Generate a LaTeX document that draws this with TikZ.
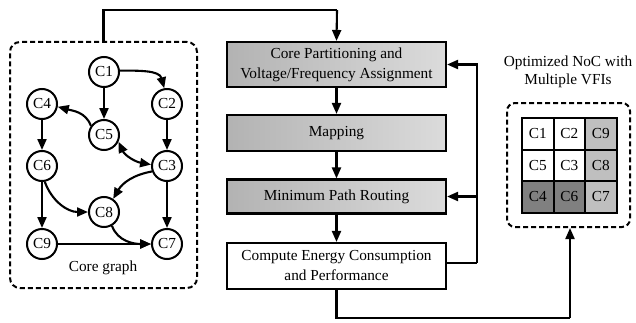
\documentclass[tikz,border=0pt]{standalone}
\usepackage{fontspec}
\setmainfont{Liberation Serif}
\usetikzlibrary{arrows.meta}
\begin{document}
\begin{tikzpicture}[x=1pt,y=1pt,
  font=\fontsize{15.3}{20}\selectfont,
  conn/.style={line width=2.1pt, -{Triangle[length=11pt,width=9pt]}},
  both/.style={line width=2.1pt, {Triangle[length=11pt,width=9pt]}-{Triangle[length=11pt,width=9pt]}},
  wire/.style={line width=2.1pt},
  core/.style={circle, draw, line width=2pt, minimum size=30pt, inner sep=0pt},
  stepbox/.style={draw, line width=2.1pt, minimum width=219pt, align=center, inner sep=0pt},
  shadedbox/.style={stepbox, left color=black!30, middle color=black!3, right color=black!14},
  group/.style={draw, line width=2pt, dash pattern=on 5pt off 3pt, rounded corners=10pt, inner sep=0pt},
  cell/.style={draw, line width=2pt, minimum size=31.5pt, inner sep=0pt},
  vfilow/.style={cell, fill=black!25},
  vfihigh/.style={cell, fill=black!50}
]
\useasboundingbox (0,0) rectangle (636,322);

% core graph
\node[group, minimum width=187pt, minimum height=246pt] (cg) at (103.5,157) {};
\node[core] (c1) at (104,250) {C1};
\node[core] (c2) at (167,218) {C2};
\node[core] (c4) at (42,218) {C4};
\node[core] (c5) at (104,187) {C5};
\node[core] (c6) at (42,156) {C6};
\node[core] (c3) at (167,156) {C3};
\node[core] (c8) at (104,110) {C8};
\node[core] (c9) at (42,78) {C9};
\node[core] (c7) at (167,78) {C7};
\node (cglabel) at (103,54) {Core graph};

\draw[conn] (c1) -- (c5);
\draw[conn] (c1.5) to[out=0,in=105] (c2.100);
\draw[conn] (c2) -- (c3);
\draw[conn] (c5.145) to[out=110,in=-15] (c4.-10);
\draw[both] (c5.-25) to[out=-65,in=170] (c3.175);
\draw[conn] (c4) -- (c6);
\draw[conn] (c3.200) to[out=190,in=60] (c8.55);
\draw[conn] (c6.-80) to[out=-70,in=180] (c8.180);
\draw[conn] (c6) -- (c9);
\draw[conn] (c3) -- (c7);
\draw[conn] (c8.-60) to[out=-70,in=180] (c7.180);
\draw[conn] (c9) -- (c7);

% design flow
\node[shadedbox, minimum height=45pt] (part) at (336.5,257.5) {Core Partitioning and\\Voltage/Frequency Assignment};
\node[shadedbox, minimum height=36pt] (map) at (336.5,189) {Mapping};
\node[shadedbox, minimum height=34pt] (route) at (336.5,125.5) {Minimum Path Routing};
\node[stepbox, minimum height=46pt] (comp) at (336.5,56) {Compute Energy Consumption\\and Performance};

\coordinate (top) at (337,312);
\coordinate (fb) at (477,59);
\coordinate (low) at (570,4);

\draw[wire] (cg.north) |- (top);
\draw[conn] (top) -- (part.north);
\draw[conn] (part) -- (map);
\draw[conn] (map) -- (route);
\draw[conn] (route) -- (comp);
\draw[wire] (comp.east |- fb) -- (fb);
\draw[conn] (fb) |- (part.east);
\draw[conn] (fb |- route.east) -- (route.east);

% optimized NoC
\node[align=center, font=\fontsize{15.3}{18}\selectfont] (noctitle) at (568,250) {Optimized NoC with\\Multiple VFIs};
\node[group, rounded corners=8pt, minimum width=123pt, minimum height=124pt] (noc) at (568.5,157) {};
\node[cell] (g1) at (537.75,188.25) {C1};
\node[cell] (g2) at (569.25,188.25) {C2};
\node[vfilow] (g9) at (600.75,188.25) {C9};
\node[cell] (g5) at (537.75,156.75) {C5};
\node[cell] (g3) at (569.25,156.75) {C3};
\node[vfilow] (g8) at (600.75,156.75) {C8};
\node[vfihigh] (g4) at (537.75,125.25) {C4};
\node[vfihigh] (g6) at (569.25,125.25) {C6};
\node[vfilow] (g7) at (600.75,125.25) {C7};

\draw[wire] (comp.south) |- (low);
\draw[conn] (low) -- (low |- noc.south);
\end{tikzpicture}
\end{document}
